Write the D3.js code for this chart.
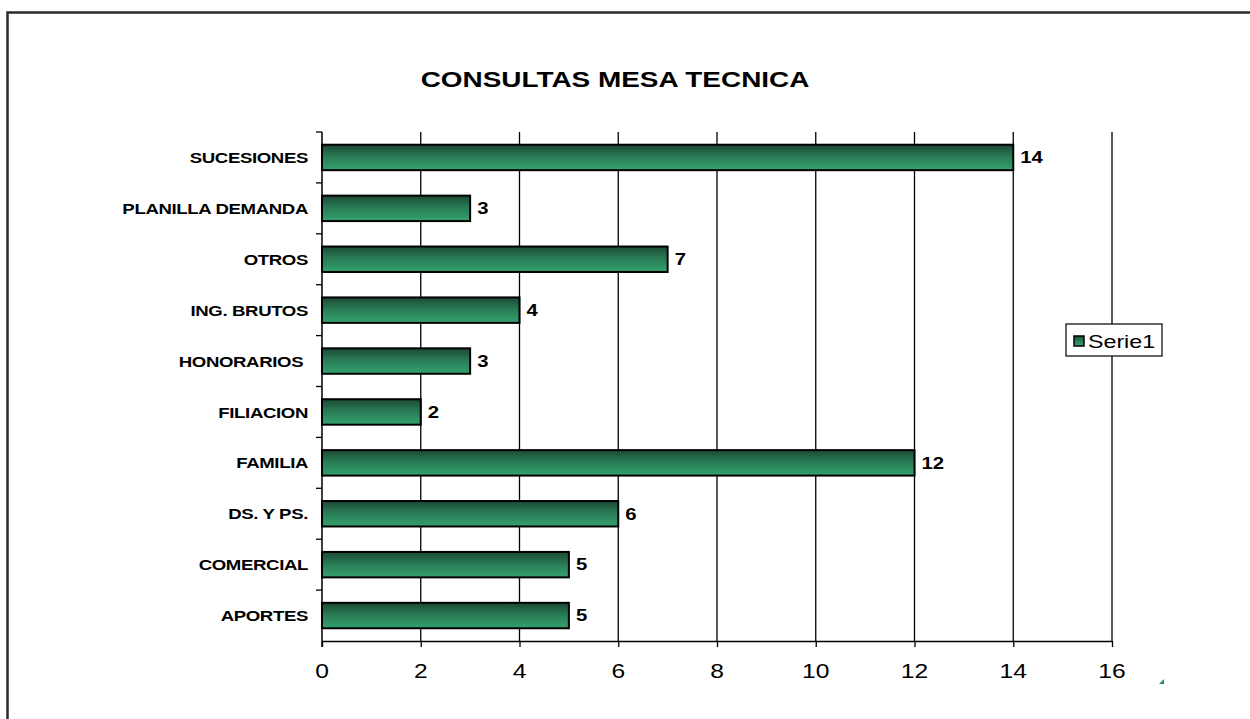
<!DOCTYPE html>
<html>
<head>
<meta charset="utf-8">
<script src="https://cdn.jsdelivr.net/npm/d3@7"></script>
<style>
  body { margin: 0; background: #fff; }
  text { font-family: "Liberation Sans", Arial, sans-serif; }
</style>
</head>
<body>
<div id="chart"></div>
<script>
var categories = ["SUCESIONES", "PLANILLA DEMANDA", "OTROS", "ING. BRUTOS", "HONORARIOS ",
                  "FILIACION", "FAMILIA", "DS. Y PS.", "COMERCIAL", "APORTES"];
var values = [14, 3, 7, 4, 3, 2, 12, 6, 5, 5];
var xTicks = [0, 2, 4, 6, 8, 10, 12, 14, 16];
var seriesName = "Serie1";
var title = "CONSULTAS MESA TECNICA";

var svgWidth = 1250, svgHeight = 719;
var svg = d3.select("#chart").append("svg")
    .attr("width", svgWidth)
    .attr("height", svgHeight);

// the original chart is stretched sideways, so text gets a horizontal scale
function stretched(sel, sx) {
  return sel.attr("transform", function() {
    var t = d3.select(this);
    return "translate(" + t.attr("data-x") + "," + t.attr("data-y") + ") scale(" + sx + ",1)";
  });
}

var defs = svg.append("defs");
var grad = defs.append("linearGradient")
    .attr("id", "barGrad")
    .attr("x1", 0).attr("y1", 0).attr("x2", 0).attr("y2", 1);
grad.append("stop").attr("offset", "0%").attr("stop-color", "#1c4833");
grad.append("stop").attr("offset", "45%").attr("stop-color", "#287a55");
grad.append("stop").attr("offset", "100%").attr("stop-color", "#34a26e");

// outer frame
svg.append("rect")
    .attr("x", 7.5).attr("y", 12.5)
    .attr("width", 1260).attr("height", 720)
    .attr("fill", "#fff")
    .attr("stroke", "#2a2a2a")
    .attr("stroke-width", 2.5);

var x = d3.scaleLinear().domain([0, 16]).range([322, 1112]);
var y = d3.scaleBand().domain(categories).range([132, 641]).paddingInner(0.5).paddingOuter(0.25);
var yb = d3.scaleBand().domain(categories).range([132, 641]);

// vertical gridlines
svg.append("g").selectAll("line")
    .data(xTicks.slice(1))
    .join("line")
    .attr("x1", d => x(d)).attr("x2", d => x(d))
    .attr("y1", 132).attr("y2", 641)
    .attr("stroke", "#000").attr("stroke-width", 1.3);

// title
svg.append("text")
    .attr("data-x", 615).attr("data-y", 87)
    .attr("text-anchor", "middle")
    .attr("font-size", 22)
    .attr("font-weight", "bold")
    .text(title)
    .call(stretched, 1.27);

// bottom axis
var xAxis = svg.append("g")
    .attr("transform", "translate(0,641)")
    .call(d3.axisBottom(x).tickValues(xTicks).tickSize(6).tickSizeOuter(0));
xAxis.select(".domain").attr("stroke", "#000").attr("stroke-width", 1.5);
xAxis.selectAll(".tick line").attr("stroke", "#000").attr("stroke-width", 1.3);
xAxis.selectAll(".tick text").remove();
svg.append("g").selectAll("text")
    .data(xTicks)
    .join("text")
    .attr("data-x", d => x(d)).attr("data-y", 678)
    .attr("text-anchor", "middle")
    .attr("font-size", 20.5)
    .attr("fill", "#000")
    .text(d => d)
    .call(stretched, 1.2);

// left axis with ticks at band boundaries
var left = svg.append("g");
left.append("line")
    .attr("x1", 322).attr("x2", 322).attr("y1", 132).attr("y2", 647)
    .attr("stroke", "#000").attr("stroke-width", 1.5);
left.selectAll("line.tk")
    .data(categories)
    .join("line")
    .attr("class", "tk")
    .attr("x1", 316).attr("x2", 322)
    .attr("y1", d => yb(d)).attr("y2", d => yb(d))
    .attr("stroke", "#000").attr("stroke-width", 1.3);

left.selectAll("text")
    .data(categories)
    .join("text")
    .attr("data-x", 308)
    .attr("data-y", d => yb(d) + yb.bandwidth() / 2)
    .attr("dy", "0.36em")
    .attr("text-anchor", "end")
    .attr("font-size", 15.5)
    .attr("font-weight", "bold")
    .attr("letter-spacing", -0.3)
    .style("white-space", "pre")
    .text(d => d)
    .call(stretched, 1.2);

// bars
svg.append("g").selectAll("rect")
    .data(values)
    .join("rect")
    .attr("x", x(0))
    .attr("y", (d, i) => y(categories[i]))
    .attr("width", d => x(d) - x(0))
    .attr("height", y.bandwidth())
    .attr("fill", "url(#barGrad)")
    .attr("stroke", "#000")
    .attr("stroke-width", 2);

// value labels
svg.append("g").selectAll("text")
    .data(values)
    .join("text")
    .attr("data-x", d => x(d) + 7)
    .attr("data-y", (d, i) => y(categories[i]) + y.bandwidth() / 2)
    .attr("dy", "0.36em")
    .attr("font-size", 16)
    .attr("font-weight", "bold")
    .text(d => d)
    .call(stretched, 1.27);

// legend
var lg = svg.append("g").attr("transform", "translate(1066,324)");
lg.append("rect")
    .attr("width", 96).attr("height", 32)
    .attr("fill", "#fff").attr("stroke", "#000").attr("stroke-width", 1.2);
lg.append("rect")
    .attr("x", 8).attr("y", 12).attr("width", 10).attr("height", 10)
    .attr("fill", "url(#barGrad)").attr("stroke", "#000").attr("stroke-width", 1.5);
lg.append("text")
    .attr("data-x", 22).attr("data-y", 23.5)
    .attr("font-size", 18)
    .text(seriesName)
    .call(stretched, 1.29);

// small corner mark
svg.append("path")
    .attr("d", "M1159,684 L1164,684 L1164,679 Z")
    .attr("fill", "#2e8b60");
</script>
</body>
</html>
